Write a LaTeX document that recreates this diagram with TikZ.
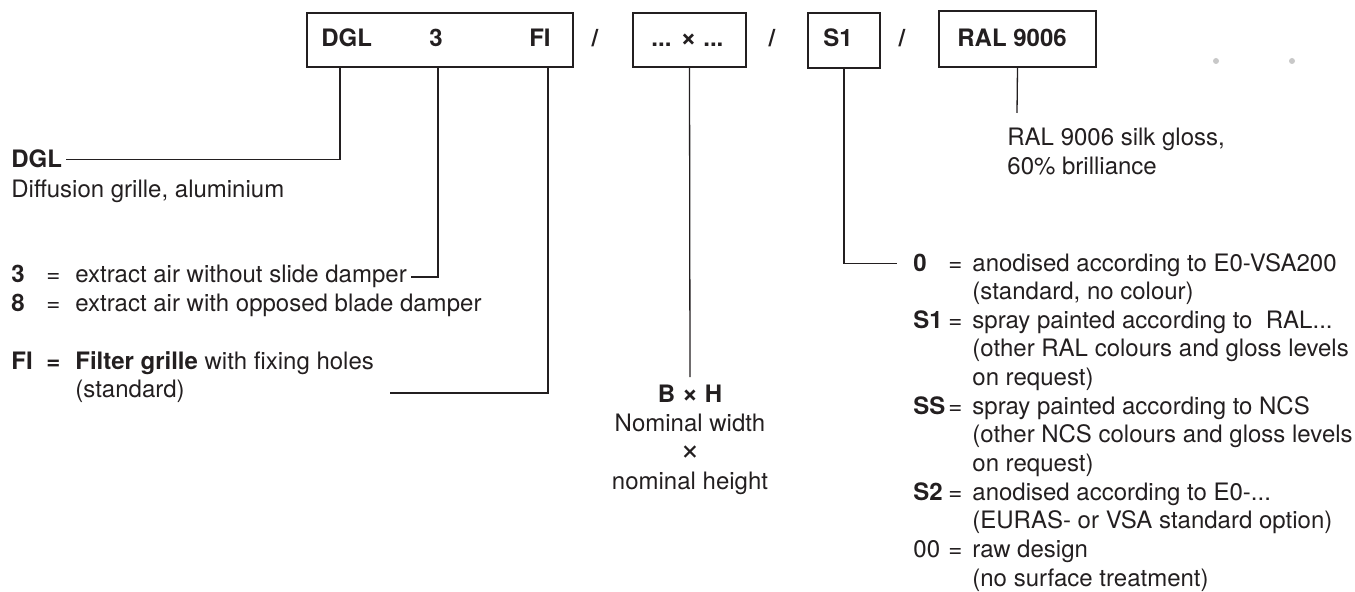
\documentclass[tikz,border=0pt]{standalone}
\usepackage{fontspec}
\setmainfont{TeX Gyre Heros}
\definecolor{ink}{HTML}{231F20}
\definecolor{dotgray}{HTML}{C8C8C8}
\tikzset{
  codebox/.style={draw=ink, line width=0.7pt, minimum height=27pt, inner sep=0pt},
  txt/.style={anchor=base west, inner sep=0pt, text=ink},
  ctxt/.style={anchor=base, inner sep=0pt, text=ink},
  leader/.style={draw=ink, line width=0.65pt}
}
\begin{document}
\begin{tikzpicture}[x=0.5pt, y=-0.5pt, font=\fontsize{12pt}{14.4pt}\selectfont]
        \useasboundingbox (0,0) rectangle (1355,592);
        % order code boxes
        \node[codebox, minimum width=133pt] (boxtype) at (440,40) {};
        \node[codebox, minimum width=56.5pt] (boxsize) at (689.5,40) {};
        \node[codebox, minimum width=36pt, minimum height=27.5pt] (boxfinish) at (844,40.5) {};
        \node[codebox, minimum width=78.5pt, minimum height=28pt] (boxcolour) at (1017.5,39) {};
        \node[txt] (codedgl) at (321,47) {\textbf{DGL}};
        \node[ctxt] (codethree) at (436,47) {\textbf{3}};
        \node[txt, anchor=base east] (codefi) at (551,47) {\textbf{FI}};
        \node[txt] (codesize) at (651,47) {\textbf{... {\fontsize{14pt}{14pt}\selectfont ×} ...}};
        \node[txt] (codefinish) at (823,47) {\textbf{S1}};
        \node[txt] (codecolour) at (957,47) {\textbf{RAL 9006}};
        \node[ctxt] (slasha) at (595,47) {\textbf{/}};
        \node[ctxt] (slashb) at (772,47) {\textbf{/}};
        \node[ctxt] (slashc) at (902,47) {\textbf{/}};
        \fill[dotgray] (1216,61) circle[radius=1.5pt];
        \fill[dotgray] (1292,61) circle[radius=1.5pt];
        % type
        \node[txt] (dglkey) at (11,168) {\textbf{DGL}};
        \node[txt] (dgltxt) at (11,198) {Diffusion grille, aluminium};
        % damper
        \node[txt] (threekey) at (11,283) {\textbf{3}};
        \node[txt] (threeeq) at (46,283) {=};
        \node[txt] (threetxt) at (75,283) {extract air without slide damper};
        \node[txt] (eightkey) at (11,312) {\textbf{8}};
        \node[txt] (eighteq) at (46,312) {=};
        \node[txt] (eighttxt) at (75,312) {extract air with opposed blade damper};
        % grille
        \node[txt] (fikey) at (11,370) {\textbf{FI}};
        \node[txt] (fieq) at (46,370) {\textbf{=}};
        \node[txt] (fitxt) at (75,370) {\textbf{Filter grille} with fixing holes};
        \node[txt] (fistd) at (75,398) {(standard)};
        % size
        \node[ctxt] (bhkey) at (690,403) {\textbf{B {\fontsize{14pt}{14pt}\selectfont ×} H}};
        \node[ctxt] (bhwidth) at (690,432) {Nominal width};
        \node[ctxt] (bhtimes) at (690,461) {\fontsize{17pt}{17pt}\selectfont ×};
        \node[ctxt] (bhheight) at (690,490) {nominal height};
        % colour
        \node[txt] (raltxt) at (1007,146) {RAL 9006 silk gloss,};
        \node[txt] (ralgloss) at (1007,175) {60\% brilliance};
        % surface finish
        \node[txt] (zerokey) at (913,272) {\textbf{0}};
        \node[txt] (zeroeq) at (948,272) {=};
        \node[txt] (zerotxt) at (972,272) {anodised according to E0-VSA200};
        \node[txt] (zeromore) at (972,300) {(standard, no colour)};
        \node[txt] (sonekey) at (913,329) {\textbf{S1}};
        \node[txt] (soneeq) at (948,329) {=};
        \node[txt] (sonetxt) at (972,329) {spray painted according to\ \ RAL...};
        \node[txt] (sonemore) at (972,357) {(other RAL colours and gloss levels};
        \node[txt] (sonereq) at (972,386) {on request)};
        \node[txt] (sskey) at (913,415) {\textbf{SS}};
        \node[txt] (sseq) at (948,415) {=};
        \node[txt] (sstxt) at (972,415) {spray painted according to NCS};
        \node[txt] (ssmore) at (972,443) {(other NCS colours and gloss levels};
        \node[txt] (ssreq) at (972,472) {on request)};
        \node[txt] (stwokey) at (913,501) {\textbf{S2}};
        \node[txt] (stwoeq) at (948,501) {=};
        \node[txt] (stwotxt) at (972,501) {anodised according to E0-...};
        \node[txt] (stwomore) at (972,529) {(EURAS- or VSA standard option)};
        \node[txt] (rawkey) at (913,558) {00};
        \node[txt] (raweq) at (948,558) {=};
        \node[txt] (rawtxt) at (972,558) {raw design};
        \node[txt] (rawmore) at (972,587) {(no surface treatment)};
        % leaders
        \coordinate (tdgl) at (340,67);
        \coordinate (tthree) at (438,67);
        \coordinate (tfi) at (548,67);
        \coordinate (fiend) at (390,393);
        \coordinate (ralend) at (1017,113);
        \draw[leader] (tdgl) |- ([xshift=2pt]dglkey.east);
        \draw[leader] (tthree) |- ([xshift=2pt]threetxt.east);
        \draw[leader] (tfi) |- (fiend);
        \draw[leader] (boxsize.south) -- ([yshift=4pt]bhkey.north);
        \draw[leader] (boxfinish.south) |- ([xshift=-8pt]zerokey.west);
        \draw[leader] (boxcolour.south) -- (ralend);
\end{tikzpicture}
\end{document}
